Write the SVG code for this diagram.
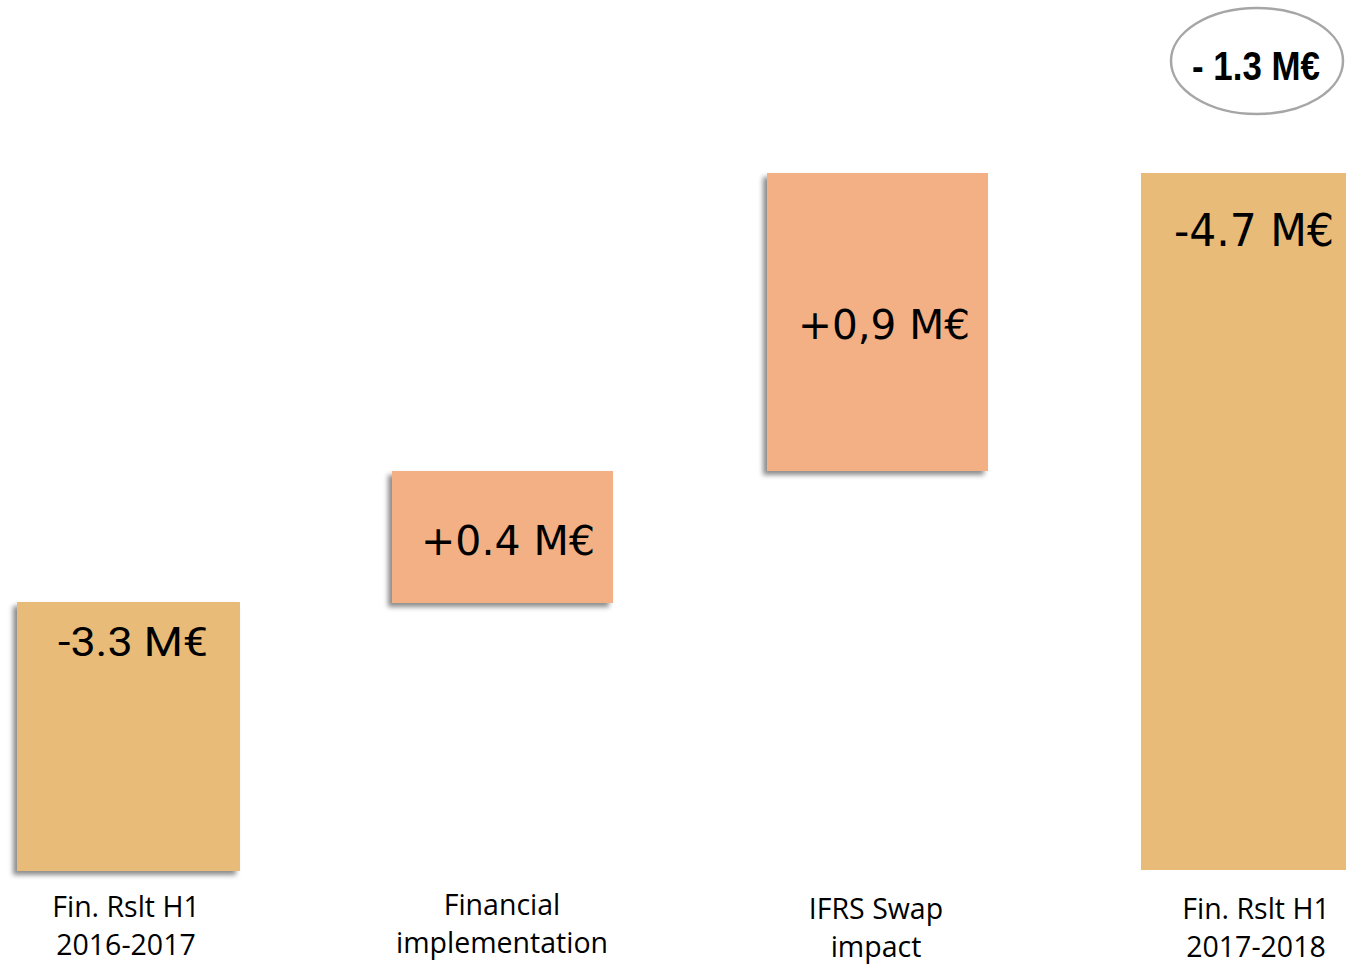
<svg xmlns="http://www.w3.org/2000/svg" width="1346" height="964" viewBox="0 0 1346 964">
<defs>
<filter id="sh" x="-10%" y="-10%" width="120%" height="120%">
<feDropShadow dx="-4" dy="4" stdDeviation="2.5" flood-color="#000" flood-opacity="0.45"/>
</filter>
<style>
.tan{fill:#E8BC78}
.sal{fill:#F2B084}
.val{font-family:Roboto,"Liberation Sans",sans-serif;fill:#000}
.din{font-family:"DejaVu Sans","Liberation Sans",sans-serif;fill:#000}
.lbl{font-family:"Open Sans","Liberation Sans",sans-serif;font-size:28.5px;fill:#000;text-anchor:middle}
</style>
</defs>
<rect width="1346" height="964" fill="#fff"/>
<g id="bar1">
<rect class="tan" x="17" y="602" width="223" height="269" filter="url(#sh)"/>
<text class="val" x="58" y="656" font-size="41" textLength="150" lengthAdjust="spacingAndGlyphs">-3.3 M€</text>
</g>
<g id="bar2">
<rect class="sal" x="392" y="471" width="221" height="132" filter="url(#sh)"/>
<text class="din" x="421" y="555" font-size="41" textLength="174" lengthAdjust="spacingAndGlyphs">+0.4 M€</text>
</g>
<g id="bar3">
<rect class="sal" x="767" y="173" width="221" height="298" filter="url(#sh)"/>
<text class="din" x="798" y="339" font-size="41" textLength="172" lengthAdjust="spacingAndGlyphs">+0,9 M€</text>
</g>
<g id="bar4">
<rect class="tan" x="1141" y="173" width="205" height="697"/>
<text class="din" x="1174" y="246" font-size="45" textLength="160" lengthAdjust="spacingAndGlyphs">-4.7 M€</text>
</g>
<g id="total">
<ellipse cx="1257" cy="61" rx="86" ry="53" fill="#fff" stroke="#A6A6A6" stroke-width="2.5"/>
<text x="1192" y="80" font-family="'Liberation Sans',sans-serif" font-weight="bold" font-size="40" textLength="128" lengthAdjust="spacingAndGlyphs">- 1.3 M€</text>
</g>
<g id="labels">
<text class="lbl" x="126" y="917">Fin. Rslt H1</text>
<text class="lbl" x="126" y="955">2016-2017</text>
<text class="lbl" x="502" y="915">Financial</text>
<text class="lbl" x="502" y="953">implementation</text>
<text class="lbl" x="876" y="919">IFRS Swap</text>
<text class="lbl" x="876" y="957">impact</text>
<text class="lbl" x="1256" y="919">Fin. Rslt H1</text>
<text class="lbl" x="1256" y="957">2017-2018</text>
</g>
<g id="connectors"></g>
</svg>
